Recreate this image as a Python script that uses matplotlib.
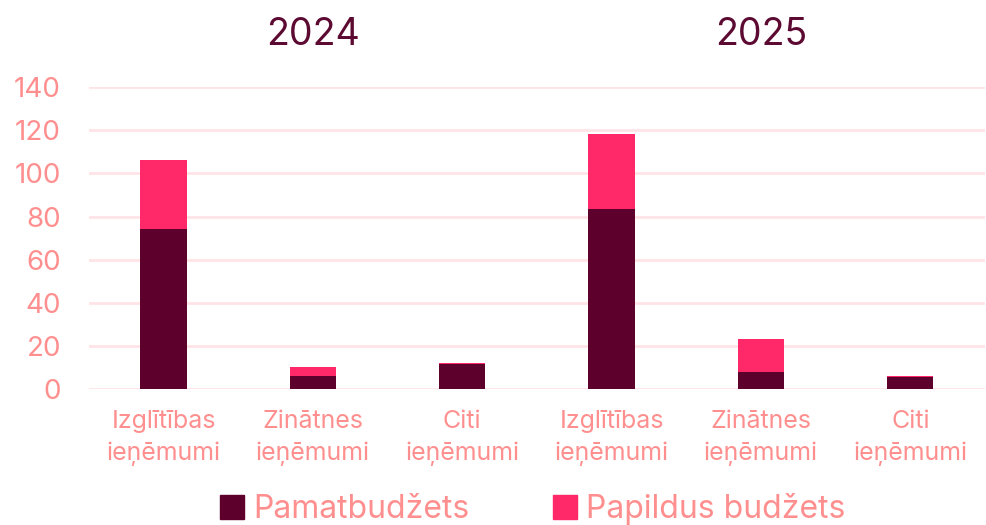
import matplotlib.pyplot as plt
import numpy as np
from matplotlib.patches import Patch
from matplotlib.transforms import blended_transform_factory

plt.rcParams['font.family'] = ['Inter', 'DejaVu Sans']

# Data
years = ['2024', '2025']
categories = ['Izglītības\nieņēmumi', 'Zinātnes\nieņēmumi', 'Citi\nieņēmumi'] * 2
base_budget = [74, 6, 11.5, 83.5, 7.7, 5.5]      # Pamatbudžets
extra_budget = [32, 4, 0.4, 35, 15.3, 0.5]       # Papildus budžets

dark = '#5E002C'
pink = '#FF2868'
label_col = '#FF8F8F'
title_col = '#5C0A32'
grid_col = '#FFE3E6'

fig = plt.figure(figsize=(9.87, 5.25), dpi=100)
ax = fig.add_axes([0.09, 0.259, 0.908, 0.575])

x = np.arange(len(categories))
width = 0.31
ax.bar(x, base_budget, width, color=dark, zorder=3)
ax.bar(x, extra_budget, width, bottom=base_budget, color=pink, zorder=3)

ax.set_xlim(-0.5, len(categories) - 0.5)
ax.set_ylim(0, 140)
ax.set_yticks(np.arange(0, 141, 20))
ax.set_xticks(x)
ax.set_xticklabels(categories, fontsize=18, color=label_col, linespacing=1.45)
ax.tick_params(axis='y', labelsize=20, labelcolor=label_col, length=0, pad=20)
ax.tick_params(axis='x', length=0, pad=15)
ax.grid(axis='y', color=grid_col, linewidth=2, zorder=0)
for s in ax.spines.values():
    s.set_visible(False)

# Year headers above the middle bar of each group
trans = blended_transform_factory(ax.transData, fig.transFigure)
for i, yr in enumerate(years):
    ax.text(1 + 3 * i, 0.933, yr, transform=trans, ha='center', va='center',
            fontsize=27, color=title_col)

handles = [Patch(color=dark, label='Pamatbudžets'),
           Patch(color=pink, label='Papildus budžets')]
leg = fig.legend(handles=handles, loc='center', bbox_to_anchor=(0.54, 0.03),
                 ncol=2, frameon=False, fontsize=23, handlelength=0.75,
                 handleheight=0.75, handletextpad=0.3, columnspacing=2.6)
for t in leg.get_texts():
    t.set_color(label_col)

plt.savefig('out.png', dpi=100)
